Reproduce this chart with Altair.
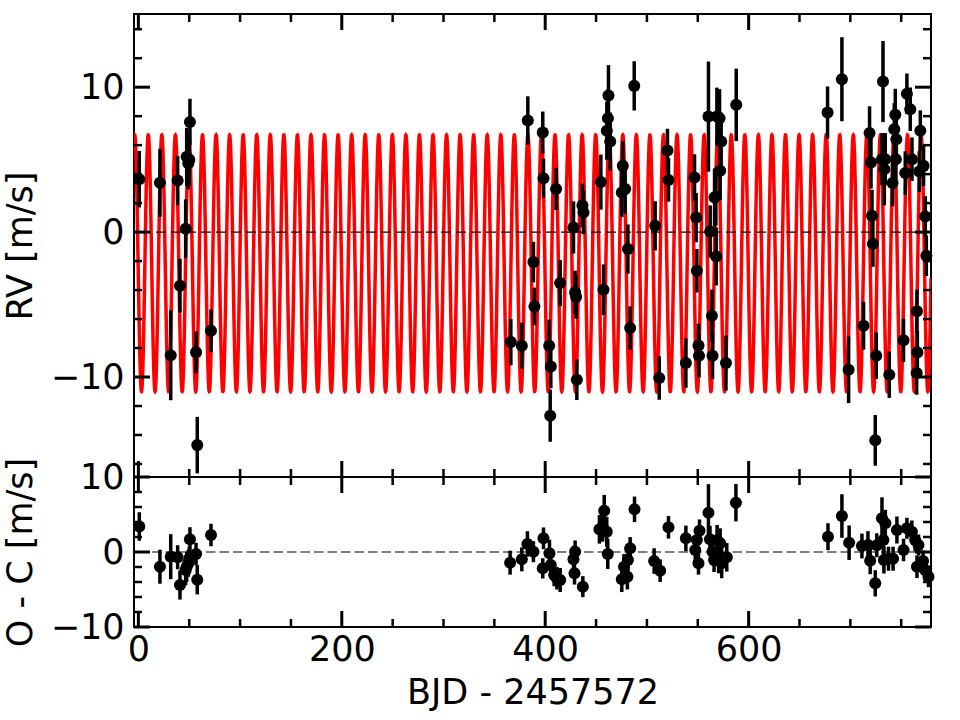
import numpy as np
import pandas as pd
import altair as alt

# ---------------- data ----------------
# RV measurements (top panel): time [BJD - 2457572], RV [m/s], 1-sigma error
rv_day = [0.9, 21.2, 31.8, 38.6, 40.9, 46.5, 47.5, 49.1, 50.1, 50.7, 56.7, 57.9, 71.4,
          366.2, 377.0, 382.9, 388.4, 389.4, 397.6, 398.3, 403.9, 405.5, 404.9, 410.7, 414.7,
          427.8, 429.4, 430.4, 431.1, 436.6, 437.6, 454.7, 457.3, 462.2, 461.6, 460.6, 463.9,
          476.3, 475.3, 478.6, 481.3, 483.5, 487.5, 508.1, 512.1, 520.2, 521.2, 538.3,
          546.8, 548.4, 549.1, 550.7, 551.2, 560.5, 562.2, 563.9, 564.5, 566.5, 567.8, 568.1,
          568.8, 571.4, 573.0, 572.0, 577.7, 587.8,
          677.6, 691.7, 698.3, 713.0, 718.9, 720.3, 721.3, 722.2, 724.5, 725.5, 732.1, 731.1,
          733.4, 734.3, 738.3, 741.5, 743.2, 744.2, 745.2, 744.7, 752.3, 754.0, 755.6, 758.9,
          760.6, 765.5, 765.9, 765.2, 768.8, 767.8, 772.0, 773.7, 774.7]
rv_val = [3.65, 3.4, -8.5, 3.56, -3.7, 0.23, 5.2, 4.75, 5.0, 7.6, -8.3, -14.7, -6.8,
          -7.59, -7.84, 7.7, -2.07, -5.13, 6.87, 3.72, -7.84, -9.27, -12.67, 2.97, -3.52,
          0.32, -4.16, -4.48, -10.19, 1.84, 1.35, 3.45, -3.98, 9.42, 7.86, 6.99, 6.25,
          4.57, 2.73, 2.97, -1.17, -6.62, 10.09, 0.43, -10.07, 5.63, 3.6, -9.04,
          3.77, 1.0, -2.67, -7.82, -8.53, 7.97, 0.04, -5.77, -8.53, 2.39, 2.46, -1.68,
          7.97, 7.86, 6.25, 4.23, -9.04, 8.78,
          8.25, 10.55, -9.5, -6.46, 6.83, 4.8, 1.12, -0.8, -14.37, -8.53, 10.39, 5.03,
          4.34, 5.03, -9.84, 3.38, 7.1, 8.09, 6.41, 5.03, -7.47, 4.07, 9.54, 8.48,
          5.03, -5.47, -8.3, -9.72, 7.0, 4.18, 4.57, 1.08, -1.63]
rv_err = [1.95, 2.35, 3.1, 1.7, 1.86, 2.03, 2.0, 1.8, 1.8, 1.6, 1.45, 1.95, 1.47,
          1.6, 1.6, 1.67, 1.4, 1.3, 1.45, 1.35, 1.8, 1.5, 1.8, 1.45, 1.6,
          1.8, 1.5, 1.5, 1.4, 1.5, 1.5, 1.9, 1.75, 2.1, 2.0, 2.0, 2.0,
          1.7, 1.7, 1.7, 1.7, 1.5, 1.7, 1.7, 1.5, 1.5, 1.5, 1.7,
          1.6, 1.7, 1.5, 1.5, 1.5, 3.8, 1.8, 1.8, 1.6, 2.0, 2.0, 2.0,
          2.0, 2.0, 2.0, 2.0, 1.9, 2.5,
          1.8, 2.9, 2.3, 1.65, 1.85, 1.8, 1.8, 1.6, 1.75, 1.6, 2.8, 1.8,
          2.5, 1.8, 1.6, 1.6, 1.8, 1.8, 1.8, 1.8, 1.5, 1.5, 1.4, 1.5,
          1.5, 1.5, 1.5, 1.5, 1.4, 1.4, 1.4, 1.4, 1.4]

# Residuals O - C (bottom panel)
oc_day = [0.9, 21.2, 31.8, 38.6, 40.9, 46.5, 47.5, 49.1, 50.1, 50.7, 56.7, 57.9, 71.4,
          365.5, 377.0, 382.5, 388.4, 398.3, 397.6, 404.2, 405.5, 408.8, 411.5, 414.7,
          427.8, 429.4, 428.8, 437.0, 453.3, 458.0, 456.5, 460.5, 461.5,
          475.3, 477.5, 480.8, 481.3, 483.5, 487.8, 507.1, 513.0, 521.2, 538.3,
          547.5, 549.1, 550.7, 551.7, 560.5, 562.0, 564.5, 566.0, 569.0, 570.5, 572.0,
          573.5, 578.5, 587.5,
          678.0, 691.7, 698.8, 711.4, 717.3, 719.5, 724.5, 726.0, 731.1, 734.4, 732.5,
          733.0, 737.5, 742.0, 745.8, 752.3, 755.6, 760.5, 763.7, 765.5, 767.0, 771.5,
          773.5, 776.8]
oc_val = [3.4, -1.96, -0.62, -0.7, -4.4, -2.4, -1.96, -1.5, -1.07, 1.7, -0.27, -3.7, 2.27,
          -1.42, -0.98, 1.07, 0.04, 1.82, -2.18, -0.18, -1.73, -3.07, -3.5, -3.73,
          -0.98, 0.04, -2.84, -4.62, 3.02, 5.51, 3.38, 2.7, -0.27,
          -3.64, -1.96, -3.29, -1.07, 0.49, 5.69, -1.2, -2.49, 3.29, 1.82,
          0.27, 1.6, -1.51, 2.84, 5.24, 1.69, 0.04, -1.07, 1.6, -0.84, 1.16,
          -1.5, -0.71, 6.58,
          2.04, 4.8, 1.24, 0.8, 0.93, -1.16, -4.18, 0.9, 4.49, 3.82, 1.6,
          -1.07, -0.9, -0.9, 2.93, 0.27, 3.16, 2.7, 1.6, -1.96, 0.93, -1.2,
          -2.4, -3.29]
oc_err = [1.9, 2.27, 3.0, 1.6, 1.95, 2.0, 2.0, 1.8, 1.8, 1.6, 1.5, 1.95, 1.5,
          1.6, 1.6, 1.7, 1.4, 1.45, 1.35, 1.8, 1.5, 1.5, 1.5, 1.6,
          1.8, 1.5, 1.5, 1.4, 1.9, 2.1, 2.0, 2.0, 2.0,
          1.7, 1.7, 1.7, 1.7, 1.5, 1.7, 1.7, 1.5, 1.5, 1.7,
          1.6, 1.7, 1.5, 1.5, 3.8, 1.8, 1.8, 1.6, 2.0, 2.0, 2.0,
          2.0, 1.9, 2.5,
          1.8, 2.9, 2.3, 1.65, 1.85, 1.8, 1.75, 1.6, 2.8, 1.8, 2.5,
          1.8, 1.6, 1.6, 1.8, 1.5, 1.4, 1.5, 1.5, 1.5, 1.4, 1.4,
          1.4, 1.4]

# Orbit model parameters
model_period = 13.33      # days between successive maxima
model_t_peak = 9.74       # time of a maximum
model_max = 6.7           # m/s
model_min = -11.0         # m/s

# axis ranges and tick values
x_domain = [-4.3, 779.3]
top_domain = [-16.9, 15.05]
bot_domain = [-10.0, 10.0]
x_major = [0, 200, 400, 600]
x_minor = [50, 100, 150, 250, 300, 350, 450, 500, 550, 650, 700, 750]
top_major = [-10, 0, 10]
top_minor = [-16, -14, -12, -8, -6, -4, -2, 2, 4, 6, 8, 12, 14]
bot_major = [-10, 0, 10]
bot_minor = [-8, -6, -4, -2, 2, 4, 6, 8]

# ---------------- tables ----------------
rv_df = pd.DataFrame({"x": rv_day, "y": rv_val, "e": rv_err})
rv_df["lo"] = rv_df["y"] - rv_df["e"]
rv_df["hi"] = rv_df["y"] + rv_df["e"]
oc_df = pd.DataFrame({"x": oc_day, "y": oc_val, "e": oc_err})
oc_df["lo"] = oc_df["y"] - oc_df["e"]
oc_df["hi"] = oc_df["y"] + oc_df["e"]

t = np.arange(x_domain[0], x_domain[1] + 0.05, 0.1)
mid = 0.5 * (model_max + model_min)
amp = 0.5 * (model_max - model_min)
model_df = pd.DataFrame({"x": t, "y": mid + amp * np.cos(2 * np.pi * (t - model_t_peak) / model_period)})

W, H1, H2 = 797, 463, 150
FONT = "DejaVu Sans"
FS = 35
MAJ, MIN = 16, 8

xs = alt.Scale(domain=x_domain, nice=False, zero=False)
ys_top = alt.Scale(domain=top_domain, nice=False, zero=False)
ys_bot = alt.Scale(domain=bot_domain, nice=False, zero=False)


def yaxis(title):
    return alt.Axis(title=title, values=[-10, 0, 10], format="d", ticks=False, domain=False,
                    grid=False, labelFontSize=FS, titleFontSize=FS, labelFont=FONT,
                    titleFont=FONT, labelColor="black", titleColor="black",
                    titleFontWeight="normal", labelPadding=10, titlePadding=12)


X_BOT = alt.Axis(title="BJD - 2457572", values=x_major, format="d", ticks=False,
                 domain=False, grid=False, labelFontSize=FS, titleFontSize=FS,
                 labelFont=FONT, titleFont=FONT, labelColor="black",
                 titleColor="black", titleFontWeight="normal", labelPadding=5,
                 titlePadding=8, labelFlush=False)
Y_TOP = yaxis("RV [m/s]")
Y_BOT = yaxis("O - C [m/s]")


def tick_layers(ys, height, ymaj, ymin, xax, yax):
    layers = []
    for vals, ln, sw in ((x_major, MAJ, 3), (x_minor, MIN, 2.5)):
        d = pd.DataFrame({"x": vals})
        base = alt.Chart(d).mark_rule(color="black", strokeWidth=sw)
        layers.append(base.encode(x=alt.X("x:Q", scale=xs, axis=xax),
                                  y=alt.value(0), y2=alt.value(ln)))
        layers.append(base.encode(x=alt.X("x:Q", scale=xs, axis=xax),
                                  y=alt.value(height), y2=alt.value(height - ln)))
    for vals, ln, sw in ((ymaj, MAJ, 3), (ymin, MIN, 2.5)):
        d = pd.DataFrame({"y": vals})
        base = alt.Chart(d).mark_rule(color="black", strokeWidth=sw)
        layers.append(base.encode(y=alt.Y("y:Q", scale=ys, axis=yax),
                                  x=alt.value(0), x2=alt.value(ln)))
        layers.append(base.encode(y=alt.Y("y:Q", scale=ys, axis=yax),
                                  x=alt.value(W), x2=alt.value(W - ln)))
    return layers


# ---------------- top panel ----------------
curve = alt.Chart(model_df).mark_line(color="#ff0000", strokeWidth=3.5, clip=True).encode(
    x=alt.X("x:Q", scale=xs, axis=None),
    y=alt.Y("y:Q", scale=ys_top, axis=Y_TOP),
)
zero_top = alt.Chart(pd.DataFrame({"y": [0]})).mark_rule(
    color="black", strokeWidth=1.3, strokeDash=[10, 5]).encode(
    y=alt.Y("y:Q", scale=ys_top, axis=Y_TOP))
err_top = alt.Chart(rv_df).mark_rule(color="black", strokeWidth=3.5, clip=True).encode(
    x=alt.X("x:Q", scale=xs, axis=None),
    y=alt.Y("lo:Q", scale=ys_top, axis=Y_TOP), y2="hi:Q")
pts_top = alt.Chart(rv_df).mark_circle(color="black", size=145, opacity=1).encode(
    x=alt.X("x:Q", scale=xs, axis=None),
    y=alt.Y("y:Q", scale=ys_top, axis=Y_TOP))

top = alt.layer(curve, zero_top, err_top, pts_top,
                *tick_layers(ys_top, H1, top_major, top_minor, None, Y_TOP)
                ).properties(width=W, height=H1)

# ---------------- bottom panel ----------------
zero_bot = alt.Chart(pd.DataFrame({"y": [0]})).mark_rule(
    color="#808080", strokeWidth=2, strokeDash=[9.5, 4]).encode(
    y=alt.Y("y:Q", scale=ys_bot, axis=Y_BOT))
err_bot = alt.Chart(oc_df).mark_rule(color="black", strokeWidth=3.5, clip=True).encode(
    x=alt.X("x:Q", scale=xs, axis=X_BOT),
    y=alt.Y("lo:Q", scale=ys_bot, axis=Y_BOT), y2="hi:Q")
pts_bot = alt.Chart(oc_df).mark_circle(color="black", size=145, opacity=1).encode(
    x=alt.X("x:Q", scale=xs, axis=X_BOT),
    y=alt.Y("y:Q", scale=ys_bot, axis=Y_BOT))

bottom = alt.layer(zero_bot, err_bot, pts_bot,
                   *tick_layers(ys_bot, H2, bot_major, bot_minor, X_BOT, Y_BOT)
                   ).properties(width=W, height=H2)

chart = alt.vconcat(top, bottom, spacing=0, bounds="flush").properties(
    padding={"left": 2, "top": 11, "right": 10, "bottom": 5}
).configure(font=FONT).configure_view(stroke="black", strokeWidth=2)

chart.save("out.html", embed_options={"renderer": "svg", "actions": False})
